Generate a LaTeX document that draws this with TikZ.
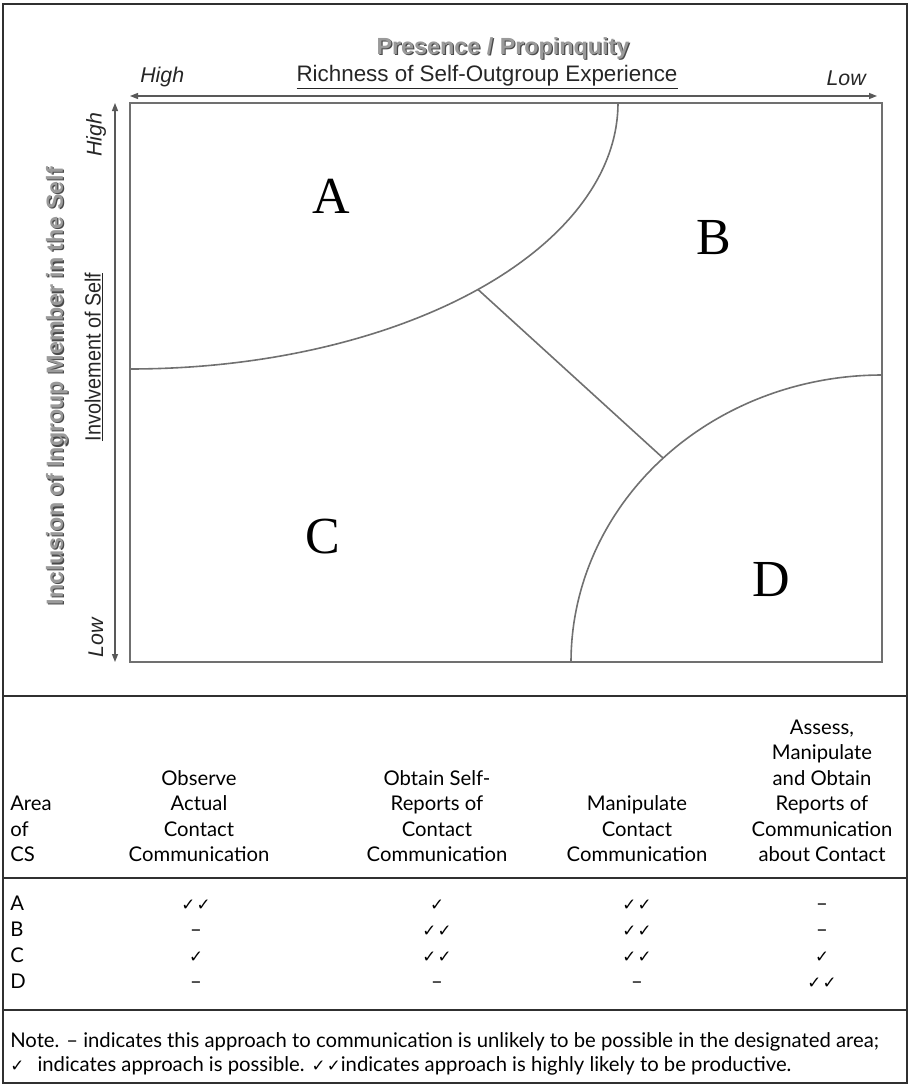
\documentclass[tikz,border=0pt]{standalone}
\usepackage{fontspec}
\setmainfont{Lato}
\newfontfamily\arialf{Liberation Sans}
\newfontfamily\serif{Liberation Serif}
\newfontfamily\dejavu{DejaVu Sans}
\usetikzlibrary{arrows.meta}
\definecolor{framec}{HTML}{303030}
\definecolor{shapec}{HTML}{707070}
\definecolor{titlec}{HTML}{9A9A9A}
\definecolor{shadowc}{HTML}{4A4A4A}
\newcommand{\ck}{{\dejavu\fontsize{12.5}{12.5}\selectfont ✓}}
\newcommand{\cck}{{\dejavu\fontsize{12.5}{12.5}\selectfont ✓\kern1pt✓}}
\begin{document}
\begin{tikzpicture}[x=0.75pt,y=-0.75pt,
  frame/.style={draw=framec,line width=1.1pt},
  region/.style={draw=shapec,line width=1.2pt},
  boxline/.style={draw=shapec,line width=1.6pt},
  axis/.style={draw=framec!80,line width=1pt,{Triangle[length=6pt,width=4.5pt]}-{Triangle[length=6pt,width=4.5pt]}},
  lab/.style={font=\arialf\fontsize{16.5}{19}\selectfont,text=black!85,inner sep=0pt},
  ilab/.style={font=\arialf\itshape\fontsize{16}{19}\selectfont,text=black!85,inner sep=0pt},
  blab/.style={font=\arialf\bfseries\fontsize{17.5}{20}\selectfont,inner sep=0pt},
  big/.style={font=\serif\fontsize{39}{39}\selectfont,inner sep=0pt},
  tab/.style={font=\fontsize{15.2}{18}\selectfont,inner sep=0pt,anchor=base},
]
\useasboundingbox (0,0) rectangle (910,1085);
% outer frame and rules
\draw[frame] (3,4) rectangle (907,1083);
\draw[frame] (3,696) -- (907,696);
\draw[frame] (3,878) -- (907,878);
\draw[frame] (3,1010) -- (907,1010);

% ---------- figure ----------
\node[blab,text=shadowc] at (504.2,49.2) {Presence / Propinquity};
\node[blab,text=titlec] (title) at (503,48) {Presence / Propinquity};
\node[ilab,anchor=west] (hhigh) at (140,77) {High};
\node[lab,font=\arialf\fontsize{16.8}{19}\selectfont] (rich) at (487,77) {\underline{Richness of Self-Outgroup Experience}};
\node[ilab,anchor=east] (hlow) at (866,78) {Low};
\coordinate (hl) at (130,96);
\coordinate (hr) at (877,96);
\draw[axis] (hl) -- (hr);

\coordinate (vt) at (115,103);
\coordinate (vb) at (115,662);
\draw[axis] (vt) -- (vb);
\node[ilab,rotate=90] (vhigh) at (96,135) {High};
\node[ilab,rotate=90] (vlow) at (96,638) {Low};
\node[blab,rotate=90,text=shadowc] at (58.2,387.2) {Inclusion of Ingroup Member in the Self};
\node[blab,rotate=90,text=titlec] (incl) at (57,386) {Inclusion of Ingroup Member in the Self};
\node[lab,rotate=90] (invol) at (94,357) {\scalebox{0.9}[1]{\underline{Involvement of Self}}};

% main box
\draw[boxline] (130,103) rectangle (882,662);
% region A boundary (quarter ellipse centred at top-left corner)
\draw[region] plot[domain=0:90,samples=80,smooth] ({130+488*cos(\x)},{103+266*sin(\x)});
% region D boundary (quarter ellipse centred at bottom-right corner)
\draw[region] plot[domain=180:270,samples=80,smooth] ({882+311*cos(\x)},{662+287*sin(\x)});
\coordinate (pa) at (478,289.5);
\coordinate (pd) at (663,458);
\draw[region] (pa) -- (pd);

\node[big] (A) at (331,196) {A};
\node[big] (B) at (714,238) {B};
\node[big] (C) at (323,537) {C};
\node[big] (D) at (771,580) {D};

% ---------- table ----------
\node[tab,anchor=base west] at (10,810.5) {Area};
\node[tab,anchor=base west] at (10,836) {of};
\node[tab,anchor=base west] at (10,861.5) {CS};

\node[tab] at (199,785) {Observe};
\node[tab] at (199,810.5) {Actual};
\node[tab] at (199,836) {Contact};
\node[tab] at (199,861.5) {Communication};

\node[tab] at (437,785) {Obtain Self-};
\node[tab] at (437,810.5) {Reports of};
\node[tab] at (437,836) {Contact};
\node[tab] at (437,861.5) {Communication};

\node[tab] at (637,810.5) {Manipulate};
\node[tab] at (637,836) {Contact};
\node[tab] at (637,861.5) {Communication};

\node[tab] at (822,734) {Assess,};
\node[tab] at (822,759.5) {Manipulate};
\node[tab] at (822,785) {and Obtain};
\node[tab] at (822,810.5) {Reports of};
\node[tab] at (822,836) {Communication};
\node[tab] at (822,861.5) {about Contact};

\node[tab,anchor=base west] at (10,910) {A};
\node[tab,anchor=base west] at (10,936) {B};
\node[tab,anchor=base west] at (10,962) {C};
\node[tab,anchor=base west] at (10,988) {D};

\node[tab] at (196,910) {\cck};
\node[tab] at (437,910) {\ck};
\node[tab] at (637,910) {\cck};
\node[tab] at (822,910) {–};

\node[tab] at (196,936) {–};
\node[tab] at (437,936) {\cck};
\node[tab] at (637,936) {\cck};
\node[tab] at (822,936) {–};

\node[tab] at (196,962) {\ck};
\node[tab] at (437,962) {\cck};
\node[tab] at (637,962) {\cck};
\node[tab] at (822,962) {\ck};

\node[tab] at (196,988) {–};
\node[tab] at (437,988) {–};
\node[tab] at (637,988) {–};
\node[tab] at (822,988) {\cck};

% note
\node[tab,anchor=base west] at (10,1047) {Note. – indicates this approach to communication is unlikely to be possible in the designated area;};
\node[tab,anchor=base west] at (10,1071) {\ck\hspace{10pt}indicates approach is possible. \cck indicates approach is highly likely to be productive.};
\end{tikzpicture}
\end{document}
